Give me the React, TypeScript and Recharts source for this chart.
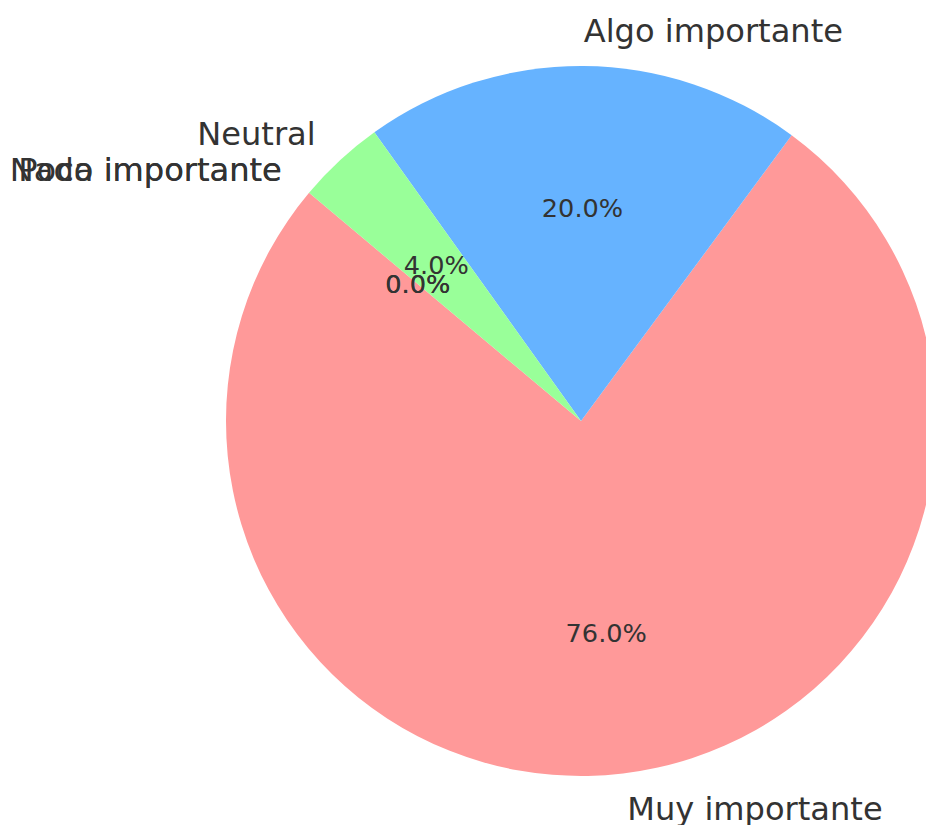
import React from 'react';
import { PieChart, Pie, Cell } from 'recharts';

const categories = ['Muy importante', 'Algo importante', 'Neutral', 'Poco importante', 'Nada importante'];
const shares = [76, 20, 4, 0, 0];
const colors = ['#ff9999', '#66b3ff', '#99ff99', '#ffcc99', '#c2c2f0'];

const data = categories.map((name, i) => ({ name, value: shares[i] }));

const RAD = Math.PI / 180;
const TEXT = '#333333';
const FONT = '"DejaVu Sans", sans-serif';

const renderLabel = (props: any) => {
  const { cx, cy, midAngle, outerRadius, percent, name, index } = props;
  const c = Math.cos(-midAngle * RAD);
  const s = Math.sin(-midAngle * RAD);
  const nx = cx + outerRadius * 1.1 * c;
  const ny = cy + outerRadius * 1.1 * s;
  const px = cx + outerRadius * 0.6 * c;
  const py = cy + outerRadius * 0.6 * s;
  return (
    <g key={`lbl-${index}`}>
      <text
        x={nx}
        y={ny}
        fill={TEXT}
        fontFamily={FONT}
        fontSize={32.1}
        textAnchor={c > 0 ? 'start' : 'end'}
        dominantBaseline="central"
      >
        {name}
      </text>
      <text
        x={px}
        y={py}
        fill={TEXT}
        fontFamily={FONT}
        fontSize={25.6}
        textAnchor="middle"
        dominantBaseline="central"
      >
        {`${(percent * 100).toFixed(1)}%`}
      </text>
    </g>
  );
};

export default function App() {
  return (
    <div style={{ position: 'absolute', left: 0, top: 0, width: 926, height: 825, background: '#fff', overflow: 'hidden' }}>
      <PieChart width={926} height={825} margin={{ top: 0, right: 0, bottom: 0, left: 0 }}>
        <Pie
          data={data}
          dataKey="value"
          nameKey="name"
          cx={581}
          cy={421}
          outerRadius={355}
          startAngle={140}
          endAngle={500}
          stroke="none"
          label={renderLabel}
          labelLine={false}
          isAnimationActive={false}
        >
          {data.map((d, i) => (
            <Cell key={d.name} fill={colors[i]} />
          ))}
        </Pie>
      </PieChart>
    </div>
  );
}
